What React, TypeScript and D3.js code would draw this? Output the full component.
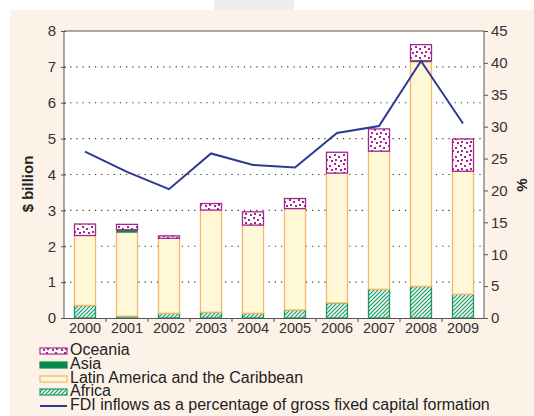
import * as d3 from 'd3';
import { useEffect, useRef } from 'react';

const years = ['2000', '2001', '2002', '2003', '2004', '2005', '2006', '2007', '2008', '2009'];
// $ billion, stacked bottom to top
const africa = [0.35, 0.05, 0.13, 0.16, 0.13, 0.22, 0.42, 0.8, 0.88, 0.66];
const latinAmerica = [1.95, 2.34, 2.09, 2.85, 2.46, 2.83, 3.62, 3.85, 6.26, 3.43];
const asia = [0, 0.07, 0, 0, 0, 0, 0, 0, 0.03, 0];
const oceania = [0.32, 0.15, 0.07, 0.18, 0.37, 0.28, 0.58, 0.62, 0.45, 0.9];
// % of gross fixed capital formation
const fdiShare = [26.1, 22.9, 20.2, 25.8, 24.0, 23.6, 29.0, 30.1, 40.3, 30.5];

const leftTicks = [0, 1, 2, 3, 4, 5, 6, 7, 8];
const rightTicks = [0, 5, 10, 15, 20, 25, 30, 35, 40, 45];

const legendLabels = [
  'Oceania',
  'Asia',
  'Latin America and the Caribbean',
  'Africa',
  'FDI inflows as a percentage of gross fixed capital formation',
];

const font = '"Liberation Sans", Arial, sans-serif';

function App() {
  const svgRef = useRef<SVGSVGElement>(null);

  useEffect(() => {
    const svg = d3.select(svgRef.current);
    svg.selectAll('*').remove();

    const margin = { left: 64, right: 484, top: 31, bottom: 318 };

    // patterns
    const defs = svg.append('defs');
    const dots = defs
      .append('pattern')
      .attr('id', 'dots')
      .attr('patternUnits', 'userSpaceOnUse')
      .attr('width', 9)
      .attr('height', 9);
    dots.append('rect').attr('width', 9).attr('height', 9).attr('fill', '#fff');
    [
      [1, 1],
      [5, 3],
      [2, 6],
      [7, 7],
    ].forEach(([px, py]) =>
      dots.append('rect').attr('x', px).attr('y', py).attr('width', 2).attr('height', 2).attr('fill', '#a3278f')
    );
    const hatch = defs
      .append('pattern')
      .attr('id', 'hatch')
      .attr('patternUnits', 'userSpaceOnUse')
      .attr('width', 4)
      .attr('height', 4);
    hatch.append('rect').attr('width', 4).attr('height', 4).attr('fill', '#eef8f0');
    hatch
      .append('path')
      .attr('d', 'M-1,1 l2,-2 M0,4 l4,-4 M3,5 l2,-2')
      .attr('stroke', '#1c9a64')
      .attr('stroke-width', 1.1);

    // background
    svg.append('rect').attr('width', 534).attr('height', 416).attr('fill', '#fff');
    svg.append('rect').attr('x', 214).attr('y', 0).attr('width', 80).attr('height', 10).attr('fill', '#eeeeee');
    svg.append('rect').attr('x', 10).attr('y', 10).attr('width', 524).attr('height', 406).attr('fill', '#fdf2e8');
    svg
      .append('rect')
      .attr('x', margin.left)
      .attr('y', margin.top)
      .attr('width', margin.right - margin.left)
      .attr('height', margin.bottom - margin.top)
      .attr('fill', '#fff');

    const x = d3
      .scaleBand()
      .domain(years)
      .range([margin.left, margin.right])
      .paddingInner(0.476)
      .paddingOuter(0.238);
    const y = d3.scaleLinear().domain([0, 8]).range([margin.bottom, margin.top]);
    const yPct = d3.scaleLinear().domain([0, 45]).range([margin.bottom, margin.top]);

    // dotted grid
    svg
      .append('g')
      .selectAll('line')
      .data(leftTicks.filter((t) => t > 0 && t < 8))
      .enter()
      .append('line')
      .attr('x1', margin.left)
      .attr('x2', margin.right)
      .attr('y1', (d) => y(d))
      .attr('y2', (d) => y(d))
      .attr('stroke', '#333')
      .attr('stroke-width', 1.2)
      .attr('stroke-dasharray', '1.2,5');

    // stacked bars
    const rows = years.map((yr, i) => ({
      year: yr,
      africa: africa[i],
      latin: latinAmerica[i],
      asia: asia[i],
      oceania: oceania[i],
    }));
    const keys = ['africa', 'latin', 'asia', 'oceania'];
    const styles: Record<string, { fill: string; stroke: string }> = {
      africa: { fill: 'url(#hatch)', stroke: '#1c9a64' },
      latin: { fill: '#fff8d6', stroke: '#f7b46a' },
      asia: { fill: '#0b8a4e', stroke: '#0b8a4e' },
      oceania: { fill: 'url(#dots)', stroke: '#a3278f' },
    };
    const series = d3.stack<any>().keys(keys)(rows);
    series.forEach((s) => {
      svg
        .append('g')
        .selectAll('rect')
        .data(s.filter((d) => d[1] - d[0] > 0))
        .enter()
        .append('rect')
        .attr('x', (d) => (x(d.data.year) as number) + 0.5)
        .attr('width', x.bandwidth() - 1)
        .attr('y', (d) => y(d[1]))
        .attr('height', (d) => y(d[0]) - y(d[1]))
        .attr('fill', styles[s.key].fill)
        .attr('stroke', styles[s.key].stroke)
        .attr('stroke-width', s.key === 'asia' ? 0.5 : 1.3);
    });

    // line
    const line = d3
      .line<number>()
      .x((_d, i) => (x(years[i]) as number) + x.bandwidth() / 2)
      .y((d) => yPct(d));
    svg
      .append('path')
      .attr('d', line(fdiShare))
      .attr('fill', 'none')
      .attr('stroke', '#2c3a94')
      .attr('stroke-width', 2);

    // frame
    svg
      .append('path')
      .attr('d', `M${margin.left},${margin.bottom}V${margin.top}H${margin.right}V${margin.bottom}`)
      .attr('fill', 'none')
      .attr('stroke', '#555')
      .attr('stroke-width', 1);

    // left axis
    const left = svg
      .append('g')
      .attr('transform', `translate(${margin.left},0)`)
      .call(d3.axisLeft(y).tickValues(leftTicks).tickSize(4).tickPadding(4));
    left.select('.domain').remove();
    left.selectAll('line').attr('stroke', '#555').attr('x2', -3).attr('x1', 2);
    left.selectAll('text').attr('font-size', 15).attr('font-family', font).attr('fill', '#333');

    // right axis
    const right = svg
      .append('g')
      .attr('transform', `translate(${margin.right},0)`)
      .call(d3.axisRight(yPct).tickValues(rightTicks).tickSize(4).tickPadding(3));
    right.select('.domain').remove();
    right.selectAll('line').attr('stroke', '#555');
    right.selectAll('text').attr('font-size', 15).attr('font-family', font).attr('fill', '#333');

    // bottom axis
    const bottom = svg
      .append('g')
      .attr('transform', `translate(0,${margin.bottom})`)
      .call(d3.axisBottom(x).tickSize(0).tickPadding(5));
    bottom.select('.domain').attr('stroke', '#555');
    bottom.selectAll('text').attr('font-size', 14.5).attr('font-family', font).attr('fill', '#333');
    svg
      .append('g')
      .selectAll('line')
      .data(years.slice(1))
      .enter()
      .append('line')
      .attr('x1', (d) => (x(d) as number) - (x.step() - x.bandwidth()) / 2)
      .attr('x2', (d) => (x(d) as number) - (x.step() - x.bandwidth()) / 2)
      .attr('y1', margin.bottom)
      .attr('y2', margin.bottom + 4)
      .attr('stroke', '#555');

    // axis titles
    svg
      .append('text')
      .attr('transform', 'translate(33,184) rotate(-90)')
      .attr('text-anchor', 'middle')
      .attr('font-size', 15)
      .attr('font-weight', 'bold')
      .attr('font-family', font)
      .attr('fill', '#222')
      .text('$ billion');
    svg
      .append('text')
      .attr('transform', 'translate(527,185) rotate(-90)')
      .attr('text-anchor', 'middle')
      .attr('font-size', 15)
      .attr('font-weight', 'bold')
      .attr('font-family', font)
      .attr('fill', '#222')
      .text('%');

    // legend
    const legendY = [355, 369, 383, 396, 410];
    const swatchFill = ['url(#dots)', '#0b8a4e', '#fff8d6', 'url(#hatch)'];
    const swatchStroke = ['#a3278f', '#0b8a4e', '#f7b46a', '#1c9a64'];
    const lg = svg.append('g');
    legendLabels.forEach((label, i) => {
      if (i < 4) {
        lg.append('rect')
          .attr('x', 40)
          .attr('y', legendY[i] - 7)
          .attr('width', 27)
          .attr('height', 6)
          .attr('fill', swatchFill[i])
          .attr('stroke', swatchStroke[i])
          .attr('stroke-width', 1.2);
      } else {
        lg.append('line')
          .attr('x1', 40)
          .attr('x2', 67)
          .attr('y1', legendY[i] - 4)
          .attr('y2', legendY[i] - 4)
          .attr('stroke', '#2c3a94')
          .attr('stroke-width', 2);
      }
      lg.append('text')
        .attr('x', 70)
        .attr('y', legendY[i])
        .attr('font-size', 16)
        .attr('font-family', font)
        .attr('fill', '#222')
        .text(label);
    });
  }, []);

  return (
    <svg
      ref={svgRef}
      width={534}
      height={416}
      style={{ position: 'absolute', left: 0, top: 0, display: 'block' }}
    />
  );
}

export default App;
